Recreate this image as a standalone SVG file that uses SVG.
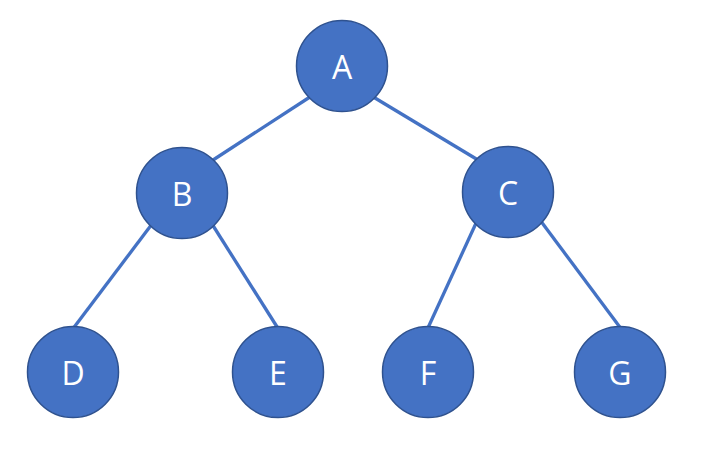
<svg xmlns="http://www.w3.org/2000/svg" width="708" height="462" viewBox="0 0 708 462">
<style>
.edge{stroke:#4472C4;stroke-width:3.3;fill:none}
.node circle{fill:#4472C4;stroke:#2F528F;stroke-width:1.5}
.node text{fill:#FFFFFF;font-family:"Open Sans","Liberation Sans",sans-serif;font-size:32px;text-anchor:middle;dominant-baseline:central}
</style>
<rect width="708" height="462" fill="#FFFFFF"/>
<g id="connectors">
<line class="edge" x1="313" y1="95" x2="210" y2="162"/>
<line class="edge" x1="370" y1="95" x2="478" y2="160"/>
<line class="edge" x1="152" y1="224" x2="72" y2="330"/>
<line class="edge" x1="212" y1="224" x2="279" y2="330"/>
<line class="edge" x1="477" y1="221" x2="427" y2="330"/>
<line class="edge" x1="540" y1="220" x2="622" y2="330"/>
</g>
<g id="node-A" class="node"><circle cx="342" cy="66" r="45.5"/><text x="342" y="66">A</text></g>
<g id="node-B" class="node"><circle cx="182" cy="193" r="45.5"/><text x="182" y="193">B</text></g>
<g id="node-C" class="node"><circle cx="508" cy="192" r="45.5"/><text x="508" y="192">C</text></g>
<g id="node-D" class="node"><circle cx="73" cy="372" r="45.5"/><text x="73" y="372">D</text></g>
<g id="node-E" class="node"><circle cx="278" cy="372" r="45.5"/><text x="278" y="372">E</text></g>
<g id="node-F" class="node"><circle cx="428" cy="372" r="45.5"/><text x="428" y="372">F</text></g>
<g id="node-G" class="node"><circle cx="620" cy="372" r="45.5"/><text x="620" y="372">G</text></g>
</svg>
